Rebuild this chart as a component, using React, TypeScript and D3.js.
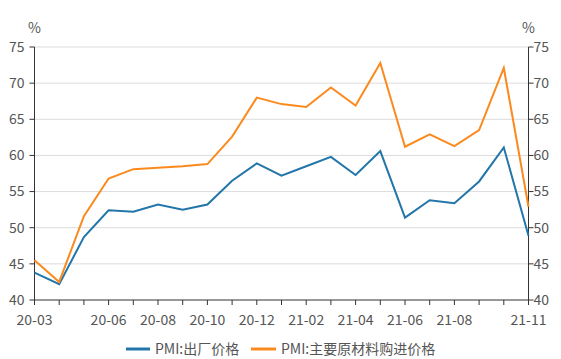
import React from "react";
import * as d3 from "d3";

const months = ["20-03","20-04","20-05","20-06","20-07","20-08","20-09","20-10","20-11","20-12","21-01","21-02","21-03","21-04","21-05","21-06","21-07","21-08","21-09","21-10","21-11"];
const labeledMonths = ["20-03","20-06","20-08","20-10","20-12","21-02","21-04","21-06","21-08","21-11"];
const outputPrice = [43.8,42.2,48.7,52.4,52.2,53.2,52.5,53.2,56.5,58.9,57.2,58.5,59.8,57.3,60.6,51.4,53.8,53.4,56.4,61.1,48.9];
const inputPrice = [45.5,42.5,51.6,56.8,58.1,58.3,58.5,58.8,62.6,68.0,67.1,66.7,69.4,66.9,72.8,61.2,62.9,61.3,63.5,72.1,52.9];
const yTicks = [40,45,50,55,60,65,70,75];
const seriesNames = ["PMI:出厂价格","PMI:主要原材料购进价格"];

const W = 561, H = 359;
const L = 34.5, R = 528.5, T = 47, B = 300;
const FONT = "'Noto Sans CJK SC', 'Noto Sans', sans-serif";
const BLUE = "#2276a9";
const ORANGE = "#fb8a1e";

export default function App() {
  const x = d3.scalePoint<string>().domain(months).range([L, R]);
  const y = d3.scaleLinear().domain([40, 75]).range([B, T]);
  const line = d3.line<number>().x((_, i) => x(months[i]) as number).y(d => y(d));
  const series = [
    { name: seriesNames[0], data: outputPrice, color: BLUE },
    { name: seriesNames[1], data: inputPrice, color: ORANGE },
  ];
  const textColor = "#555";
  return (
    <svg width={W} height={H} style={{ position: "fixed", left: 0, top: 0, background: "#fff" }} fontFamily={FONT}>
      {yTicks.map(t => (
        t !== 40 ? <line key={"g" + t} x1={L} x2={R} y1={y(t)} y2={y(t)} stroke="#dcdcdc" strokeWidth={1} /> : null
      ))}
      {/* left axis */}
      <line x1={L} x2={L} y1={T} y2={B} stroke="#333" strokeWidth={1} />
      {yTicks.map(t => (
        <g key={"l" + t}>
          <line x1={L - 5} x2={L} y1={y(t)} y2={y(t)} stroke="#333" />
          <text x={L - 10} y={y(t)} dy="0.35em" textAnchor="end" fontSize={14} fill={textColor}>{t}</text>
        </g>
      ))}
      <text x={L} y={33} textAnchor="middle" fontSize={14} fill={textColor}>%</text>
      {/* right axis */}
      <line x1={R} x2={R} y1={T} y2={B} stroke="#333" strokeWidth={1} />
      {yTicks.map(t => (
        <g key={"r" + t}>
          <line x1={R} x2={R + 5} y1={y(t)} y2={y(t)} stroke="#333" />
          <text x={R + 5} y={y(t)} dy="0.35em" textAnchor="start" fontSize={14} fill={textColor}>{t}</text>
        </g>
      ))}
      <text x={R} y={33} textAnchor="middle" fontSize={14} fill={textColor}>%</text>
      {/* bottom axis */}
      <line x1={L} x2={R} y1={B} y2={B} stroke="#333" strokeWidth={1} />
      {months.map(m => (
        <line key={"t" + m} x1={x(m)} x2={x(m)} y1={B} y2={B + 5} stroke="#333" />
      ))}
      {labeledMonths.map(m => (
        <text key={"x" + m} x={x(m)} y={B + 20} dy="0.35em" textAnchor="middle" fontSize={14} fill={textColor}>{m}</text>
      ))}
      {series.map(s => (
        <path key={s.name} d={line(s.data) || ""} fill="none" stroke={s.color} strokeWidth={2} />
      ))}
      {/* legend */}
      <g>
        <line x1={126} x2={150} y1={349} y2={349} stroke={BLUE} strokeWidth={3} />
        <text x={155} y={349} dy="0.35em" fontSize={14} fill={textColor}>{series[0].name}</text>
        <line x1={251} x2={276} y1={349} y2={349} stroke={ORANGE} strokeWidth={3} />
        <text x={281} y={349} dy="0.35em" fontSize={14} fill={textColor}>{series[1].name}</text>
      </g>
    </svg>
  );
}
